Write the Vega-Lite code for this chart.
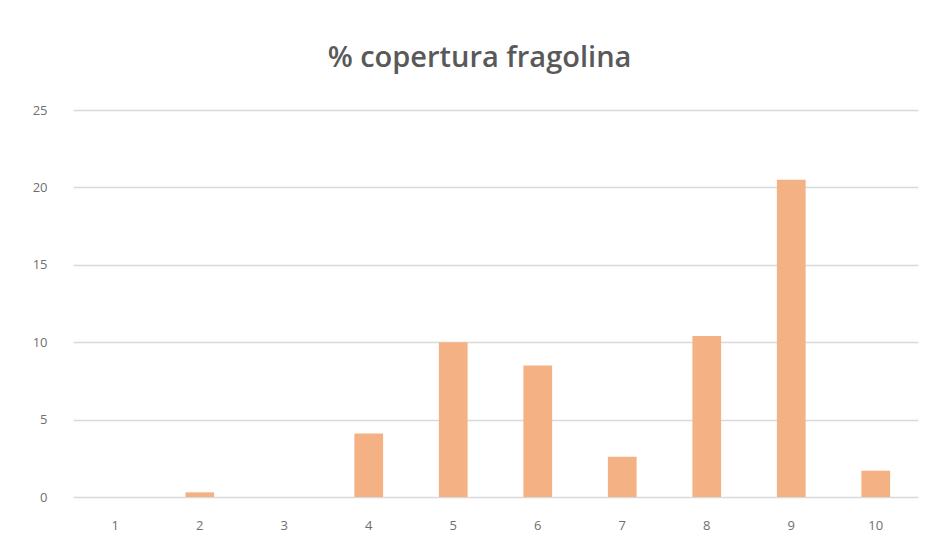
{
  "$schema": "https://vega.github.io/schema/vega-lite/v6.json",
  "width": 845,
  "height": 387,
  "autosize": {"type": "none"},
  "padding": {"left": 73, "top": 110, "right": 16, "bottom": 51},
  "background": "white",
  "title": {
    "text": "% copertura fragolina",
    "font": "Open Sans",
    "fontSize": 29,
    "fontWeight": 600,
    "color": "#595959",
    "anchor": "middle",
    "dx": -16,
    "offset": 31
  },
  "data": {
    "values": [
      {"campione": "1", "copertura": 0},
      {"campione": "2", "copertura": 0.3},
      {"campione": "3", "copertura": 0},
      {"campione": "4", "copertura": 4.1},
      {"campione": "5", "copertura": 10.0},
      {"campione": "6", "copertura": 8.5},
      {"campione": "7", "copertura": 2.6},
      {"campione": "8", "copertura": 10.4},
      {"campione": "9", "copertura": 20.5},
      {"campione": "10", "copertura": 1.7}
    ]
  },
  "mark": {"type": "bar", "color": "#F4B183"},
  "encoding": {
    "x": {
      "field": "campione",
      "type": "ordinal",
      "sort": null,
      "scale": {"paddingInner": 0.66, "paddingOuter": 0.33},
      "axis": {
        "title": null,
        "labelAngle": 0,
        "ticks": false,
        "domain": false,
        "labelPadding": 22,
        "labelFont": "Open Sans",
        "labelFontSize": 13,
        "labelColor": "#6f6f6f"
      }
    },
    "y": {
      "field": "copertura",
      "type": "quantitative",
      "scale": {"domain": [0, 25]},
      "axis": {
        "title": null,
        "values": [0, 5, 10, 15, 20, 25],
        "ticks": false,
        "domain": false,
        "labelPadding": 26,
        "labelFont": "Open Sans",
        "labelFontSize": 13,
        "labelColor": "#6f6f6f",
        "gridColor": "#D9D9D9",
        "gridWidth": 1.5
      }
    }
  },
  "config": {"view": {"stroke": null}}
}
